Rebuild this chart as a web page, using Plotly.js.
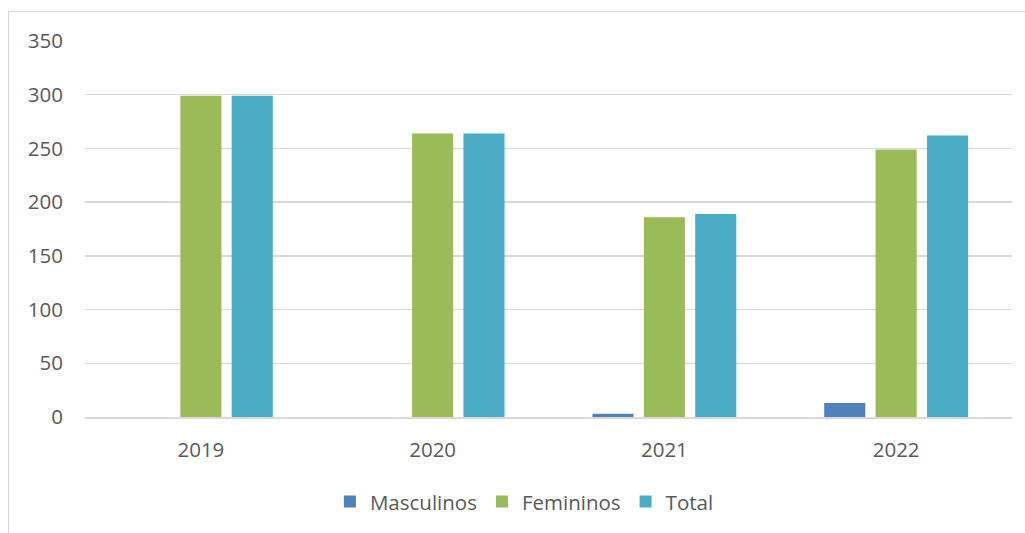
<!DOCTYPE html>
<html>
<head>
<meta charset="utf-8">
<script src="https://cdn.plot.ly/plotly-3.0.1.min.js"></script>
<style>
  html, body { margin: 0; padding: 0; background: #ffffff; }
  #wrap { position: relative; width: 1025px; height: 533px; overflow: hidden; }
  #chart { position: absolute; left: 0; top: 0; width: 1025px; height: 533px; }
  #frame { position: absolute; left: 8px; top: 11px; width: 1100px; height: 600px;
           border-left: 1px solid #d9d9d9; border-top: 1px solid #d9d9d9;
           pointer-events: none; }
</style>
</head>
<body>
<div id="wrap">
  <div id="chart"></div>
  <div id="frame"></div>
</div>
<script>
// Anos e contagens por sexo
const years = ['2019', '2020', '2021', '2022'];
const masculinos = [0, 0, 3, 13];
const femininos = [299, 264, 186, 249];
const total = [299, 264, 189, 262];
const yTicks = [0, 50, 100, 150, 200, 250, 300, 350];

const textColor = '#595959';
const gridColor = '#d9d9d9';
const fontFamily = '"Open Sans", "Noto Sans", sans-serif';

const traces = [
  { type: 'bar', name: 'Masculinos', x: years, y: masculinos,
    marker: { color: '#4f81bd' }, hoverinfo: 'x+y+name' },
  { type: 'bar', name: 'Femininos', x: years, y: femininos,
    marker: { color: '#9bbb59' }, hoverinfo: 'x+y+name' },
  { type: 'bar', name: 'Total', x: years, y: total,
    marker: { color: '#4bacc6' }, hoverinfo: 'x+y+name' }
];

const layout = {
  width: 1025,
  height: 533,
  paper_bgcolor: 'rgba(0,0,0,0)',
  plot_bgcolor: '#ffffff',
  margin: { l: 85, r: 13, t: 41, b: 115, pad: 0 },
  barmode: 'group',
  bargap: 0.335,
  bargroupgap: 0.2,
  font: { family: fontFamily, color: textColor, size: 20.5 },
  xaxis: {
    type: 'category',
    showgrid: false,
    showline: true,
    linecolor: gridColor,
    linewidth: 1.5,
    ticks: '',
    ticklabelstandoff: 14,
    tickfont: { family: fontFamily, size: 20.5, color: textColor },
    fixedrange: true
  },
  yaxis: {
    range: [0, 350],
    tickvals: yTicks,
    ticktext: yTicks.map(String),
    showgrid: true,
    gridcolor: gridColor,
    gridwidth: 1.5,
    zeroline: false,
    showline: false,
    ticks: '',
    ticklabelstandoff: 21,
    tickfont: { family: fontFamily, size: 20.5, color: textColor },
    fixedrange: true
  },
  showlegend: true,
  legend: {
    orientation: 'h',
    x: 0.474,
    xanchor: 'center',
    y: -0.222,
    yanchor: 'middle',
    font: { family: fontFamily, size: 20.5, color: textColor },
    bgcolor: 'rgba(0,0,0,0)',
    traceorder: 'normal'
  }
};

Plotly.newPlot('chart', traces, layout, { displayModeBar: false, staticPlot: true });
</script>
</body>
</html>
